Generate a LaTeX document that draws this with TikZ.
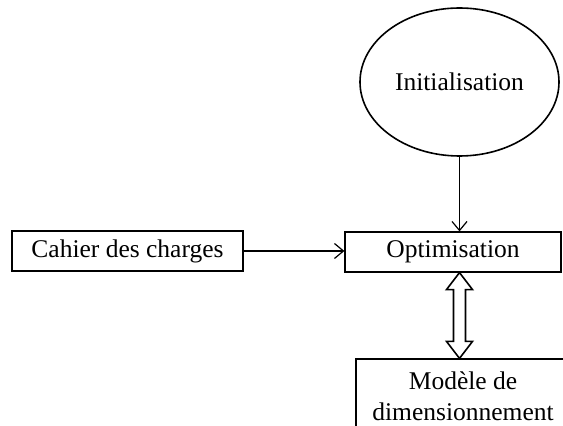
\documentclass[tikz,border=0pt]{standalone}
\usepackage{fontspec}
\setmainfont{Liberation Serif}
\usetikzlibrary{arrows.meta,calc,shapes.geometric}
\begin{document}
\begin{tikzpicture}[x=1pt,y=1pt,
  font=\fontsize{25.5}{31}\selectfont,
  box/.style={draw,line width=1.2pt,inner sep=0pt,align=center},
  conn/.style={line width=1.2pt,-{Straight Barb[length=9pt,width=15pt,line width=1.2pt]}},
  dbl/.style={draw,line width=1.6pt,line join=miter,fill=white}
]
\useasboundingbox (0,0) rectangle (563,426);
\node[box,ellipse,line width=1.6pt,minimum width=199,minimum height=148] (ini) at (459.5,344) {Initialisation};
\node[box,minimum width=231,minimum height=40] (cah) at (127.5,175) {Cahier des charges};
\node[box,minimum width=216,minimum height=40] (opt) at (453,174) {Optimisation};
\node[box,minimum width=214,minimum height=74] (mod) at (463,30) {Mod\`ele de\\dimensionnement};
\draw[conn] (ini.south) -- (ini.south |- opt.north);
\draw[conn] (cah.east) -- (cah.east -| opt.west);
\coordinate (t) at (ini.south |- opt.south);
\coordinate (b) at (ini.south |- mod.north);
\draw[dbl] (t) -- ($(t)+(-13,-17)$) -- ($(t)+(-6,-17)$) -- ($(b)+(-6,17)$) -- ($(b)+(-13,17)$) -- (b)
  -- ($(b)+(13,17)$) -- ($(b)+(6,17)$) -- ($(t)+(6,-17)$) -- ($(t)+(13,-17)$) -- cycle;
\end{tikzpicture}
\end{document}
